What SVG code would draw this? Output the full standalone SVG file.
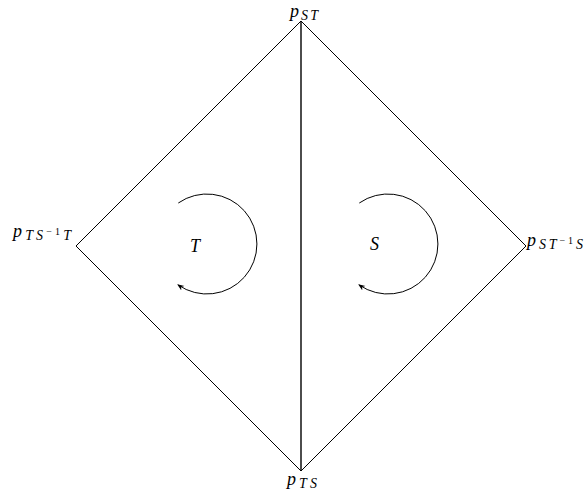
<svg xmlns="http://www.w3.org/2000/svg" width="586" height="500" viewBox="0 0 586 500">
<style>
.ln{stroke:#000;stroke-width:1;fill:none}
.lb{font-family:"Liberation Serif",serif;font-style:italic;fill:#000}
.m{font-size:18px}
.s{font-size:14px}
.ss{font-size:10px;font-style:normal}
</style>
<defs>
<marker id="ar" viewBox="0 0 10 10" refX="8" refY="5" markerWidth="7" markerHeight="7" markerUnits="userSpaceOnUse" orient="auto">
<path d="M0,1 L10,5 L0,9 L3,5 Z" fill="#000"/>
</marker>
</defs>
<rect width="586" height="500" fill="#fff"/>
<g id="connectors">
<path class="ln" d="M301,21 L526,246 L301,471 L76,246 Z"/>
<path class="ln" style="stroke-width:1.4" d="M301,21 L301,471"/>
<path class="ln" marker-end="url(#ar)" d="M178.3,203 A50,50 0 1 1 178.3,285"/>
<path class="ln" marker-end="url(#ar)" d="M359.3,203 A50,50 0 1 1 359.3,285"/>
</g>
<g id="pST"><text class="lb m" x="290" y="17" textLength="28" lengthAdjust="spacing">p<tspan class="s" dy="3">ST</tspan></text></g>
<g id="pTS"><text class="lb m" x="287" y="485" textLength="30" lengthAdjust="spacing">p<tspan class="s" dy="3">TS</tspan></text></g>
<g id="pTSinvT"><text class="lb m" x="13" y="237" textLength="58" lengthAdjust="spacing">p<tspan class="s" dy="3">TS</tspan><tspan class="ss" dy="-5">−1</tspan><tspan class="s" dy="5">T</tspan></text></g>
<g id="pSTinvS"><text class="lb m" x="527" y="246" textLength="56" lengthAdjust="spacing">p<tspan class="s" dy="3">ST</tspan><tspan class="ss" dy="-5">−1</tspan><tspan class="s" dy="5">S</tspan></text></g>
<g id="T"><text class="lb m" x="190" y="252">T</text></g>
<g id="S"><text class="lb m" x="370" y="250">S</text></g>
</svg>
